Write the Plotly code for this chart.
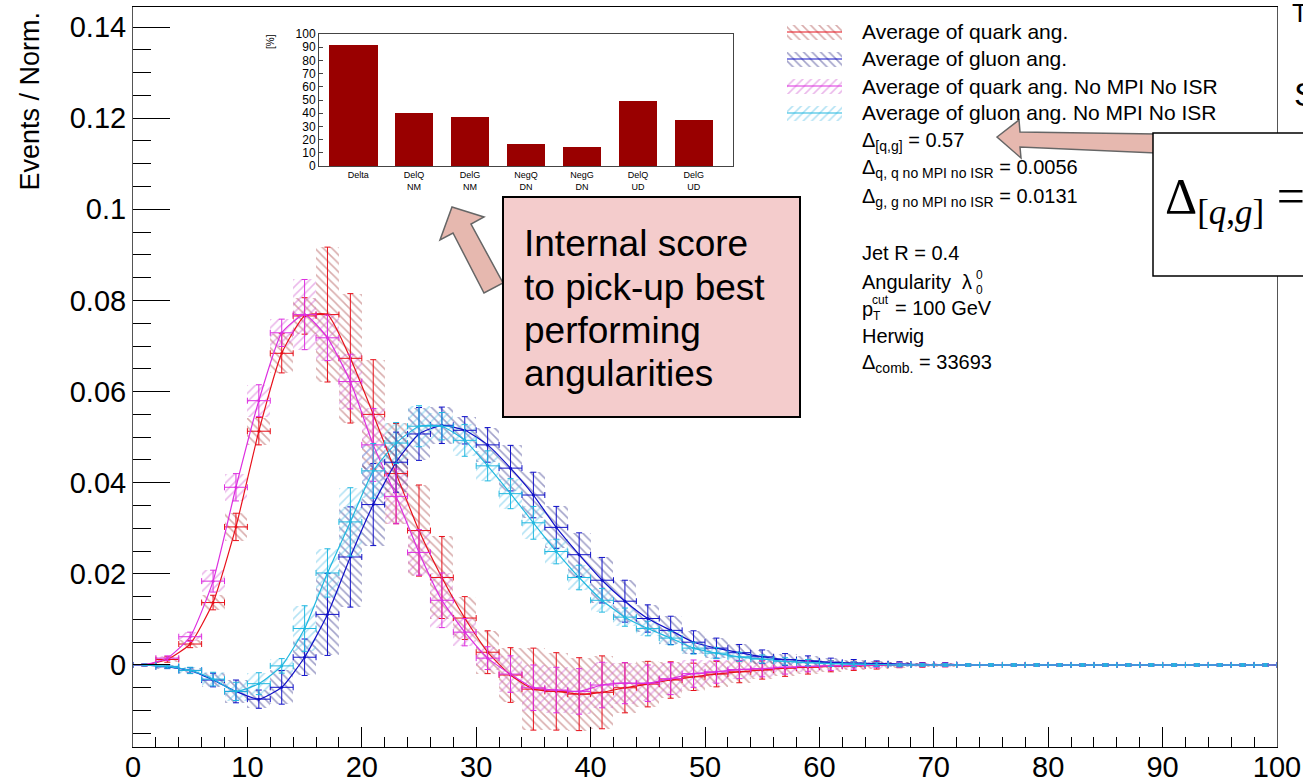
import plotly.graph_objects as go

# ---------------------------------------------------------------- data
BIN_CENTERS = list(range(1, 100, 2))   # 50 bins of width 2 on [0, 100]

QUARK = [0.0, 0.0012, 0.0046, 0.0137, 0.0303, 0.0513, 0.0684, 0.0766, 0.0769, 0.0673,
         0.0550, 0.0420, 0.0295, 0.0192, 0.0103, 0.0028, -0.0022, -0.0053, -0.0058, -0.0064,
         -0.0060, -0.0050, -0.0042, -0.0033, -0.0026, -0.0020, -0.0015, -0.0011, -0.0007, -0.0005,
         -0.0003, -0.0002, -0.0001, 0.0, 0.0, 0.0, 0.0, 0.0, 0.0, 0.0,
         0.0, 0.0, 0.0, 0.0, 0.0, 0.0, 0.0, 0.0, 0.0, 0.0]
QUARK_ERR = [0.0002, 0.0006, 0.0008, 0.0016, 0.0030, 0.0030, 0.0043, 0.0040, 0.0148, 0.0142,
             0.0120, 0.0110, 0.0100, 0.0090, 0.0047, 0.0047, 0.0060, 0.0090, 0.0085, 0.0080,
             0.0080, 0.0055, 0.0050, 0.0040, 0.0030, 0.0028, 0.0024, 0.0020, 0.0018, 0.0015,
             0.0012, 0.0010, 0.0008, 0.0006, 0.0005, 0.0004, 0.0003, 0.0003, 0.0003, 0.0003,
             0.0003, 0.0003, 0.0003, 0.0003, 0.0003, 0.0003, 0.0003, 0.0003, 0.0003, 0.0003]

GLUON = [0.0, -0.0004, -0.0012, -0.0033, -0.0058, -0.0075, -0.0049, 0.0017, 0.0111, 0.0237,
         0.0352, 0.0445, 0.0507, 0.0526, 0.0515, 0.0483, 0.0432, 0.0373, 0.0302, 0.0242,
         0.0186, 0.0140, 0.0102, 0.0076, 0.0050, 0.0037, 0.0027, 0.0018, 0.0012, 0.0009,
         0.0006, 0.0004, 0.0003, 0.0002, 0.0001, 0.0001, 0.0, 0.0, 0.0, 0.0,
         0.0, 0.0, 0.0, 0.0, 0.0, 0.0, 0.0, 0.0, 0.0, 0.0]
GLUON_ERR = [0.0002, 0.0004, 0.0006, 0.0015, 0.0025, 0.0020, 0.0037, 0.0040, 0.0090, 0.0110,
             0.0090, 0.0066, 0.0058, 0.0040, 0.0030, 0.0038, 0.0050, 0.0050, 0.0046, 0.0048,
             0.0050, 0.0046, 0.0030, 0.0031, 0.0025, 0.0022, 0.0018, 0.0015, 0.0013, 0.0011,
             0.0009, 0.0008, 0.0006, 0.0005, 0.0004, 0.0004, 0.0003, 0.0003, 0.0003, 0.0003,
             0.0003, 0.0003, 0.0003, 0.0003, 0.0003, 0.0003, 0.0003, 0.0003, 0.0003, 0.0003]

QUARK_NOMPI = [0.0, 0.0015, 0.0062, 0.0184, 0.0390, 0.0580, 0.0729, 0.0769, 0.0718, 0.0622,
               0.0483, 0.0370, 0.0247, 0.0142, 0.0072, 0.0015, -0.0020, -0.0050, -0.0055, -0.0058,
               -0.0044, -0.0040, -0.0040, -0.0030, -0.0019, -0.0015, -0.0010, -0.0008, -0.0005, -0.0003,
               -0.0002, -0.0001, 0.0, 0.0, 0.0, 0.0, 0.0, 0.0, 0.0, 0.0,
               0.0, 0.0, 0.0, 0.0, 0.0, 0.0, 0.0, 0.0, 0.0, 0.0]
QUARK_NOMPI_ERR = [0.0002, 0.0005, 0.0010, 0.0024, 0.0030, 0.0035, 0.0030, 0.0077, 0.0050, 0.0060,
                   0.0080, 0.0060, 0.0050, 0.0060, 0.0030, 0.0025, 0.0040, 0.0050, 0.0050, 0.0050,
                   0.0050, 0.0045, 0.0040, 0.0035, 0.0030, 0.0025, 0.0020, 0.0018, 0.0015, 0.0012,
                   0.0010, 0.0008, 0.0006, 0.0005, 0.0004, 0.0004, 0.0003, 0.0003, 0.0003, 0.0003,
                   0.0003, 0.0003, 0.0003, 0.0003, 0.0003, 0.0003, 0.0003, 0.0003, 0.0003, 0.0003]

GLUON_NOMPI = [0.0, -0.0003, -0.0012, -0.0031, -0.0058, -0.0041, -0.0002, 0.0080, 0.0202, 0.0314,
               0.0426, 0.0487, 0.0524, 0.0524, 0.0493, 0.0437, 0.0376, 0.0312, 0.0249, 0.0192,
               0.0142, 0.0105, 0.0080, 0.0059, 0.0037, 0.0026, 0.0018, 0.0013, 0.0008, 0.0005,
               0.0003, 0.0002, 0.0001, 0.0, 0.0, 0.0, 0.0, 0.0, 0.0, 0.0,
               0.0, 0.0, 0.0, 0.0, 0.0, 0.0, 0.0, 0.0, 0.0, 0.0]
GLUON_NOMPI_ERR = [0.0002, 0.0004, 0.0007, 0.0015, 0.0020, 0.0024, 0.0016, 0.0050, 0.0053, 0.0075,
                   0.0060, 0.0045, 0.0045, 0.0030, 0.0035, 0.0033, 0.0033, 0.0036, 0.0027, 0.0027,
                   0.0026, 0.0020, 0.0016, 0.0015, 0.0013, 0.0012, 0.0010, 0.0009, 0.0008, 0.0007,
                   0.0006, 0.0005, 0.0004, 0.0004, 0.0003, 0.0003, 0.0003, 0.0003, 0.0003, 0.0003,
                   0.0003, 0.0003, 0.0003, 0.0003, 0.0003, 0.0003, 0.0003, 0.0003, 0.0003, 0.0003]

SERIES_NAMES = ["Average of quark ang.", "Average of gluon ang.",
                "Average of quark ang. No MPI No ISR", "Average of gluon ang. No MPI No ISR"]

X_TICKS = [0, 10, 20, 30, 40, 50, 60, 70, 80, 90, 100]
Y_TICKS = [0, 0.02, 0.04, 0.06, 0.08, 0.1, 0.12, 0.14]
Y_TICK_LABELS = ["0", "0.02", "0.04", "0.06", "0.08", "0.1", "0.12", "0.14"]

# inset: internal score per criterion
SCORE_LABELS = ["Delta", "DelQ<br>NM", "DelG<br>NM", "NegQ<br>DN", "NegG<br>DN", "DelQ<br>UD", "DelG<br>UD"]
SCORE_VALUES = [91.7, 39.9, 37.4, 16.4, 14.1, 49.0, 34.6]
SCORE_TICKS = [0, 10, 20, 30, 40, 50, 60, 70, 80, 90, 100]

INFO_LINES = ["Δ<sub>[q,g]</sub> = 0.57",
              "Δ<sub>q, q no MPI no ISR</sub> = 0.0056",
              "Δ<sub>g, g no MPI no ISR</sub> = 0.0131",
              "Jet R = 0.4",
              "Herwig",
              "Δ<sub>comb.</sub> = 33693"]
CALLOUT_LINES = ["Internal score", "to pick-up best", "performing", "angularities"]

# ---------------------------------------------------------------- geometry
W, H = 1303, 784
L, R, T, B = 133, 26, 7, 37
PW, PH = W - L - R, H - T - B


def px(x):
    """page pixel column -> paper x"""
    return (x - L) / PW


def py(y):
    """page pixel row -> paper y"""
    return (H - B - y) / PH


SANS = "Liberation Sans, Arial, Helvetica, sans-serif"
SERIF = "Liberation Serif, DejaVu Serif, Times New Roman, serif"

styles = [
    # values, errors, line colour, band colour, hatch
    (QUARK, QUARK_ERR, "#e8101a", "rgba(170,70,70,0.9)", "\\"),
    (GLUON, GLUON_ERR, "#1010c8", "rgba(45,45,135,0.9)", "\\"),
    (QUARK_NOMPI, QUARK_NOMPI_ERR, "#dd2ee0", "rgba(205,85,205,0.85)", "/"),
    (GLUON_NOMPI, GLUON_NOMPI_ERR, "#20b8e0", "rgba(85,190,230,0.9)", "/"),
]
HATCH = dict(size=6, solidity=0.26)

fig = go.Figure()

# hatched uncertainty bands
for vals, errs, lc, bc, hatch in styles:
    fig.add_trace(go.Bar(
        x=BIN_CENTERS, base=[v - e for v, e in zip(vals, errs)], y=[2 * e for e in errs],
        width=2, xaxis="x", yaxis="y", showlegend=False, hoverinfo="skip",
        marker=dict(color=bc, line=dict(width=0),
                    pattern=dict(shape=hatch, fgcolor=bc, bgcolor="rgba(0,0,0,0)", **HATCH)),
    ))

# curves with error crosses
for (vals, errs, lc, bc, hatch), name in zip(styles, SERIES_NAMES):
    fig.add_trace(go.Scatter(
        x=BIN_CENTERS, y=vals, name=name, mode="lines+markers", xaxis="x", yaxis="y",
        showlegend=False,
        line=dict(color=lc, width=1.2, shape="spline", smoothing=0.5),
        marker=dict(color=lc, size=3),
        error_y=dict(type="data", array=errs, color=lc, thickness=1, width=3),
        error_x=dict(type="constant", value=1, color=lc, thickness=1, width=3),
    ))

# inset bar chart
fig.add_trace(go.Bar(
    x=list(range(len(SCORE_VALUES))), y=SCORE_VALUES, xaxis="x2", yaxis="y2",
    width=[0.875] + [0.67] * (len(SCORE_VALUES) - 1),
    offset=[-0.518] + [-0.335] * (len(SCORE_VALUES) - 1),
    marker=dict(color="#990000", line=dict(width=0)), showlegend=False, hoverinfo="skip",
))

# legend swatches (hatched box with the curve colour through it)
for row, (vals, errs, lc, bc, hatch) in enumerate(styles):
    yc = 3.5 - row
    fig.add_trace(go.Bar(
        x=[0.5], base=[yc - 0.26], y=[0.52], width=[1.0], xaxis="x3", yaxis="y3",
        showlegend=False, hoverinfo="skip",
        marker=dict(color=bc, line=dict(width=0),
                    pattern=dict(shape=hatch, fgcolor=bc, bgcolor="rgba(0,0,0,0)", **HATCH)),
    ))
    fig.add_trace(go.Scatter(
        x=[0, 1], y=[yc, yc], mode="lines", xaxis="x3", yaxis="y3", showlegend=False,
        hoverinfo="skip", line=dict(color=lc, width=1.2),
    ))

annotations = []


def text(x, y, s, size=20, family=SANS, xanchor="left", yanchor="middle", angle=0, color="black"):
    annotations.append(dict(x=px(x), y=py(y), xref="paper", yref="paper", text=s,
                            showarrow=False, xanchor=xanchor, yanchor=yanchor, textangle=angle,
                            font=dict(family=family, size=size, color=color)))


# legend labels
for i, name in enumerate(SERIES_NAMES):
    text(860, 32 + 27 * i, name, size=21)

# fit summary
text(860, 141, INFO_LINES[0], size=20)
text(860, 168, INFO_LINES[1], size=20)
text(860, 197, INFO_LINES[2], size=20)
text(860, 253, INFO_LINES[3], size=20)
text(860, 282, "Angularity  λ", size=20)
text(974, 275, "0", size=12)
text(974, 290, "0", size=12)
text(860, 309, "p", size=20)
text(870, 300, "cut", size=12)
text(871, 316, "T", size=12)
text(893, 308, "= 100 GeV", size=20)
text(860, 336, INFO_LINES[4], size=20)
text(860, 363, INFO_LINES[5], size=20)

# y-axis title, aligned to the top of the axis
text(30, 10, "Events / Norm.", size=27, xanchor="center", yanchor="top", angle=-90)

# inset y title
text(271, 42, "[%]", size=10, xanchor="center", angle=-90)

# callout text
for i, line in enumerate(CALLOUT_LINES):
    text(522, 244 + 43 * i, line, size=37)

# formula box text
text(1163, 200, "Δ<sub>[<i>q</i>,<i>g</i>]</sub> =", size=50, family=SERIF)

# fragments of neighbouring text at the right edge
text(1292, 94, "S", size=34)
text(1290, -4, "T", size=26, yanchor="top")


def poly(points):
    return "M " + " L ".join(f"{px(x):.5f},{py(y):.5f}" for x, y in points) + " Z"


shapes = [
    # arrow towards the inset
    dict(type="path", xref="paper", yref="paper", layer="above",
         path=poly([(452, 207), (484, 217), (471, 224), (503, 283), (484, 293), (453, 233), (440, 240)]),
         fillcolor="#e6b8af", line=dict(color="#666666", width=1.5)),
    # callout box
    dict(type="rect", xref="paper", yref="paper", layer="above",
         x0=px(503), x1=px(800), y0=py(417), y1=py(197),
         fillcolor="#f4cccc", line=dict(color="black", width=2)),
    # arrow towards the separation value
    dict(type="path", xref="paper", yref="paper", layer="above",
         path=poly([(997, 137), (1019, 120), (1020, 132), (1156, 134), (1156, 153), (1020, 147), (1021, 158)]),
         fillcolor="#e6b8af", line=dict(color="#666666", width=1.5)),
    # formula box
    dict(type="rect", xref="paper", yref="paper", layer="above",
         x0=px(1153), x1=px(1320), y0=py(276), y1=py(133),
         fillcolor="white", line=dict(color="black", width=1.5)),
]

fig.update_layout(
    width=W, height=H, margin=dict(l=L, r=R, t=T, b=B, autoexpand=False),
    paper_bgcolor="white", plot_bgcolor="white",
    barmode="overlay", bargap=0, showlegend=False,
    font=dict(family=SANS, color="black"),
    annotations=annotations, shapes=shapes,
    xaxis=dict(domain=[0, 1], anchor="y", range=[0, 100], tickvals=X_TICKS, automargin=False,
               ticks="inside", ticklen=20, tickwidth=1, tickcolor="black",
               minor=dict(dtick=2, tick0=0, ticks="inside", ticklen=10, tickcolor="black"),
               showline=True, linecolor="black", linewidth=1, mirror=True,
               ticklabelstandoff=-6,
               showgrid=False, zeroline=False, tickfont=dict(family=SANS, size=29)),
    yaxis=dict(domain=[0, 1], anchor="x", range=[-0.018, 0.1444], tickvals=Y_TICKS, automargin=False,
               ticktext=Y_TICK_LABELS, ticks="inside", ticklen=37, tickwidth=1, tickcolor="black",
               minor=dict(dtick=0.005, tick0=0, ticks="inside", ticklen=18, tickcolor="black"),
               showline=True, linecolor="#555555", linewidth=1, mirror=True,
               showgrid=False, zeroline=False, tickfont=dict(family=SANS, size=29)),
    xaxis2=dict(domain=[px(319), px(733)], anchor="y2", range=[-0.7, 6.7], automargin=False,
                tickvals=list(range(len(SCORE_LABELS))), ticktext=SCORE_LABELS,
                ticks="", showline=True, linecolor="#444444", linewidth=1, mirror=True,
                showgrid=False, zeroline=False, tickfont=dict(family=SANS, size=9)),
    yaxis2=dict(domain=[py(166), py(34)], anchor="x2", range=[0, 100], tickvals=SCORE_TICKS,
                automargin=False, ticks="inside", ticklen=4, tickcolor="#444444",
                showline=True, linecolor="#444444", linewidth=1, mirror=True,
                showgrid=False, zeroline=False, tickfont=dict(family=SANS, size=12)),
    xaxis3=dict(domain=[px(787), px(842)], anchor="y3", range=[0, 1], visible=False, automargin=False),
    yaxis3=dict(domain=[py(126.5), py(18.5)], anchor="x3", range=[0, 4], visible=False, automargin=False),
)

fig.write_html("out.html")
